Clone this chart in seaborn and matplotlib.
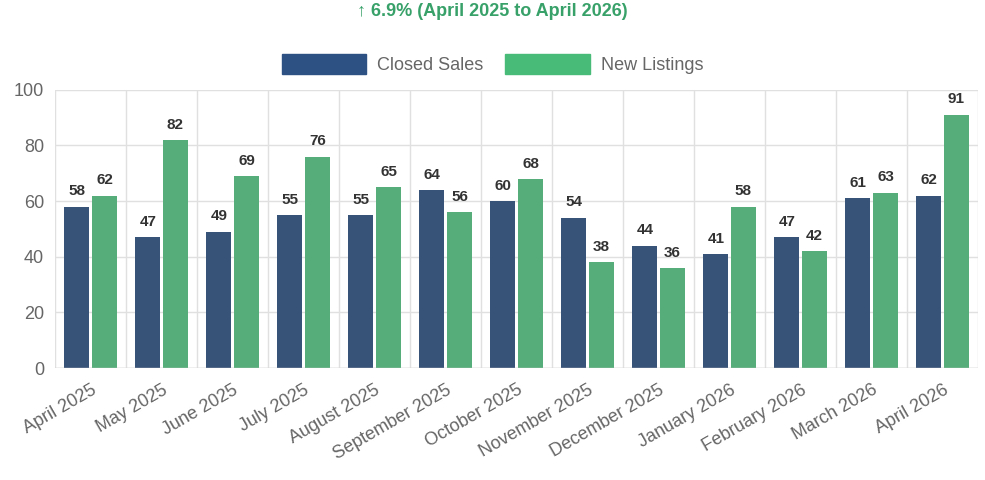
import pandas as pd
import matplotlib
matplotlib.use('Agg')
from matplotlib import pyplot as plt
import seaborn as sns

months = ['April 2025', 'May 2025', 'June 2025', 'July 2025', 'August 2025', 'September 2025',
          'October 2025', 'November 2025', 'December 2025', 'January 2026', 'February 2026',
          'March 2026', 'April 2026']
closed_sales = [58, 47, 49, 55, 55, 64, 60, 54, 44, 41, 47, 61, 62]
new_listings = [62, 82, 69, 76, 65, 56, 68, 38, 36, 58, 42, 63, 91]
title = '\u2191 6.9% (April 2025 to April 2026)'

df = pd.DataFrame({'Month': months * 2,
                   'Value': closed_sales + new_listings,
                   'Series': ['Closed Sales'] * len(months) + ['New Listings'] * len(months)})

sns.set_style('white')
plt.rcParams['font.family'] = ['Liberation Sans', 'DejaVu Sans']

fig = plt.figure(figsize=(9.85, 4.8), dpi=100)
ax = fig.add_axes([0.056, 0.233, 0.937, 0.58])
palette = {'Closed Sales': '#2d5183', 'New Listings': '#48bb78'}
sns.barplot(data=df, x='Month', y='Value', hue='Series', palette=palette, ax=ax,
            width=0.78, gap=0.1, edgecolor='white', linewidth=0, legend=False)

for c in ax.containers:
    ax.bar_label(c, padding=6, fontsize=11, fontweight='bold', color='#333333')

ax.set_ylim(0, 100)
ax.set_xlim(-0.5, len(months) - 0.5)
ax.set_yticks(range(0, 101, 20))
ax.set_xlabel('')
ax.set_ylabel('')
ax.yaxis.grid(True, color='#e0e0e0', lw=1)
for i in range(len(months) + 1):
    ax.axvline(i - 0.5, color='#e0e0e0', lw=1, zorder=0)
ax.set_axisbelow(True)
for s in ax.spines.values():
    s.set_visible(False)
ax.axhline(0, color='#cccccc', lw=1)
ax.tick_params(axis='y', labelsize=13, colors='#666666', length=0, pad=8)
ax.tick_params(axis='x', labelsize=13, colors='#666666', length=6, color='#dddddd')
plt.setp(ax.get_xticklabels(), rotation=30, ha='right', rotation_mode='anchor')

handles = [plt.Rectangle((0, 0), 1, 1, color=palette[k]) for k in palette]
fig.legend(handles, list(palette), loc='center', bbox_to_anchor=(0.5, 0.867), ncol=2,
           frameon=False, fontsize=13, labelcolor='#666666', handlelength=4.7,
           handleheight=1.3, columnspacing=1.2, handletextpad=0.6)
fig.text(0.5, 0.975, title, ha='center', va='center', fontsize=13, fontweight='bold',
         color='#38a169')

fig.savefig('out.png', dpi=100)
